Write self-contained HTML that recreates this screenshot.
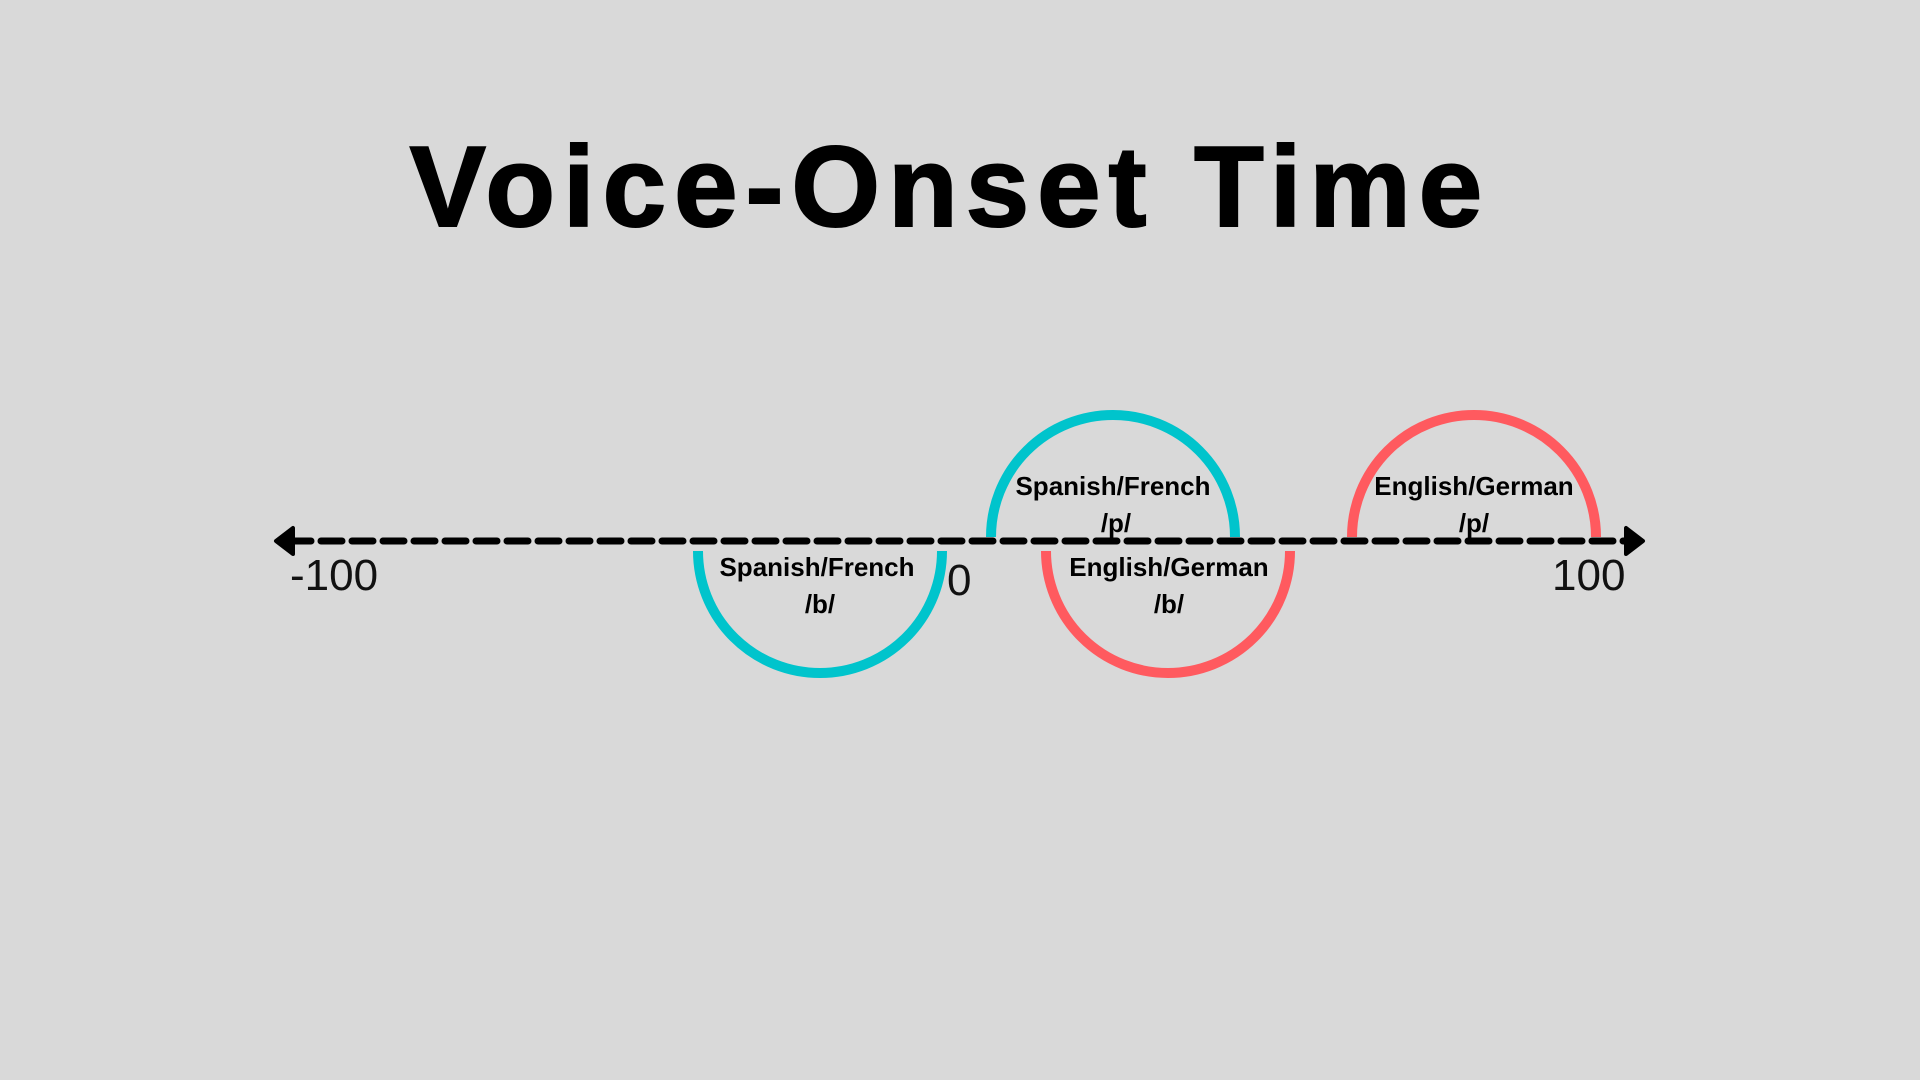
<!DOCTYPE html>
<html><head><meta charset="utf-8"><style>
html,body{margin:0;padding:0;background:#d9d9d9;}
body{width:1920px;height:1080px;position:relative;overflow:hidden;font-family:"Liberation Sans",sans-serif;}
svg{position:absolute;left:0;top:0;}
</style></head><body>
<svg width="1920" height="1080" viewBox="0 0 1920 1080">
<text x="950" y="226" text-anchor="middle" font-family="Liberation Sans, sans-serif" font-weight="bold" font-size="114" letter-spacing="8" fill="#000" stroke="#000" stroke-width="2">Voice-Onset Time</text>
<line x1="290" y1="541" x2="1630" y2="541" stroke="#000" stroke-width="7" stroke-dasharray="21 10" stroke-linecap="round"/>
<path d="M276 541 L293 528 L293 554 Z" fill="#000" stroke="#000" stroke-width="4" stroke-linejoin="round"/>
<path d="M1643 541 L1626 528 L1626 554 Z" fill="#000" stroke="#000" stroke-width="4" stroke-linejoin="round"/>
<g fill="none" stroke-width="10">
<path d="M698 551 A122 122 0 0 0 942 551" stroke="#00C4CC"/>
<path d="M1046 551 A122 122 0 0 0 1290 551" stroke="#FF5A5F"/>
<path d="M991 537 A122 122 0 0 1 1235 537" stroke="#00C4CC"/>
<path d="M1352 537 A122 122 0 0 1 1596 537" stroke="#FF5A5F"/>
</g>
<g font-family="Liberation Sans, sans-serif" font-weight="bold" font-size="26" text-anchor="middle" fill="#000">
<text x="1113" y="495">Spanish/French</text><text x="1116" y="532">/p/</text>
<text x="1474" y="495">English/German</text><text x="1474" y="532">/p/</text>
<text x="817" y="576">Spanish/French</text><text x="820" y="613">/b/</text>
<text x="1169" y="576">English/German</text><text x="1169" y="613">/b/</text>
</g>
<g font-family="Liberation Sans, sans-serif" font-size="44" fill="#111" font-weight="300">
<text x="290" y="590">-100</text>
<text x="947" y="595">0</text>
<text x="1552" y="590">100</text>
</g>
</svg>
</body></html>
